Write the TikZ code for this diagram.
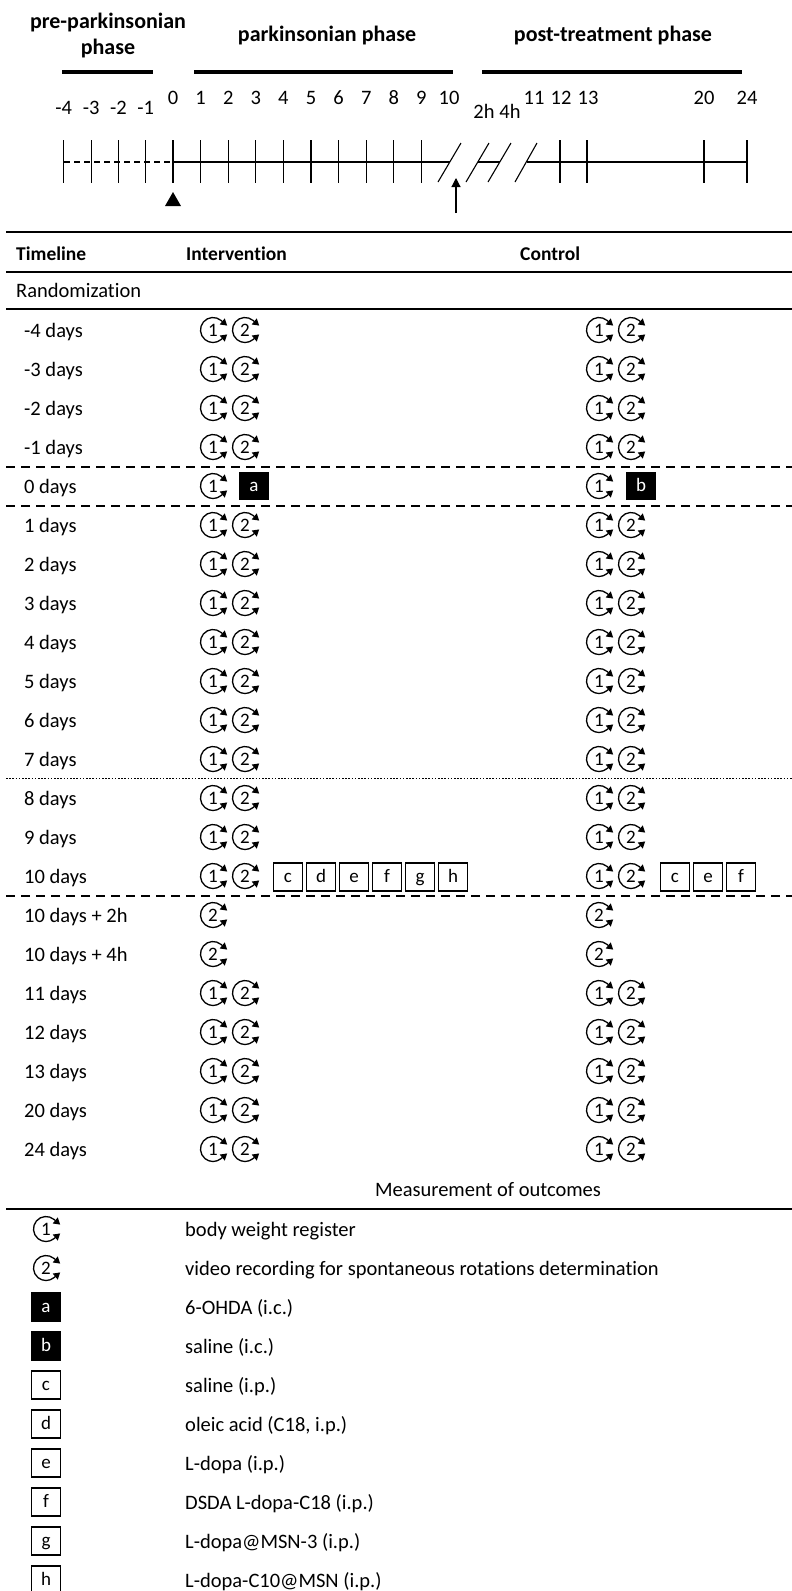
\documentclass[tikz,border=0pt]{standalone}
\usepackage{fontspec}
\setmainfont{Carlito}[Ligatures={NoCommon,NoContextual}]
\usetikzlibrary{arrows.meta}
\newcommand\txtsz{\fontsize{20.5}{24}\selectfont}
\newcommand\hdsz{\fontsize{22}{26}\selectfont\bfseries}
\newcommand\thsz{\fontsize{19.5}{23}\selectfont\bfseries}
\newcommand\icsz{\fontsize{19}{22}\selectfont}
\tikzset{
  cycnum/.style={circle,inner sep=0pt,minimum size=24pt,font=\icsz},
  cycarr/.style={line width=1.3pt,{Triangle[length=6.5pt,width=7.5pt]}-{Triangle[length=6.5pt,width=7.5pt]}},
  trtbox/.style={draw,line width=1.8pt,minimum width=29pt,minimum height=28pt,inner sep=0pt,
    text height=13pt,text depth=3pt,font=\icsz},
  blkbox/.style={fill=black,text=white,minimum width=30pt,minimum height=28pt,inner sep=0pt,
    text height=13pt,text depth=3pt,font=\icsz},
  rowtxt/.style={anchor=base west,inner sep=0pt,font=\txtsz},
  rulethick/.style={line width=2pt},
  ruledash/.style={line width=2pt,dash pattern=on 9pt off 6pt},
  ruledot/.style={line width=1.6pt,dash pattern=on 1.6pt off 1.6pt},
  phasebar/.style={line width=4.5pt},
  daytick/.style={line width=1.1pt}
}
\newcommand\cyc[4]{%
  \node[cycnum] (#1) at (#2,#3) {#4};
  \draw[cycarr] ([shift={(14.2pt,4.4pt)}]#1.center) -- ([shift={(50:12.5pt)}]#1.center)
    arc[start angle=50,end angle=310,radius=12.5pt] -- ([shift={(14.2pt,-4.4pt)}]#1.center);}

\begin{document}
\begin{tikzpicture}[x=1pt,y=-1pt]
  \useasboundingbox (0,0) rectangle (792,1591);

  \node[font=\hdsz,align=center] (prehd) at (108,36) {pre-parkinsonian\\phase};
  \node[font=\hdsz] (parkhd) at (327,36) {parkinsonian phase};
  \node[font=\hdsz] (posthd) at (613,36) {post-treatment phase};
  \draw[phasebar] (62,72) -- (153,72);
  \draw[phasebar] (194,72) -- (453,72);
  \draw[phasebar] (482,72) -- (742,72);

  \foreach \n [count=\i from 1] in {-1,-2,-3,-4} {
    \node[font=\txtsz] (neg\i) at (173-27.3*\i,108) {\n};
    \draw[daytick] (173-27.3*\i,140) -- (173-27.3*\i,183);
  }
  \foreach \n in {0,...,9} {
    \node[font=\txtsz] (day\n) at (173+27.6*\n,98) {\n};
    \draw[daytick] (173+27.6*\n,140) -- (173+27.6*\n,183);
  }
  \node[font=\txtsz] (day10) at (449,98) {10};
  \node[font=\txtsz] (hr2) at (484,111) {2h};
  \node[font=\txtsz] (hr4) at (510,111) {4h};
  \node[font=\txtsz] (day11) at (534,98) {11};
  \node[font=\txtsz] (day12) at (561,98) {12};
  \node[font=\txtsz] (day13) at (588,98) {13};
  \node[font=\txtsz] (day20) at (704,98) {20};
  \node[font=\txtsz] (day24) at (747,98) {24};
  \foreach \x in {560,587,704,747}
    \draw[daytick] (\x,140) -- (\x,183);

  \draw[daytick,dash pattern=on 6pt off 4pt] (64,162) -- (173,162);
  \draw[daytick] (173,162) -- (450,162);
  \draw[daytick] (478,162) -- (500,162);
  \draw[daytick] (527,162) -- (747,162);
  \draw[daytick] (438,182) -- (461,143);
  \draw[daytick] (466,182) -- (489,143);
  \draw[daytick] (488,182) -- (511,143);
  \draw[daytick] (515,182) -- (537,143);
  \fill (173,192) -- (181,206) -- (165,206) -- cycle;
  \coordinate (injbot) at (456,213);
  \coordinate (injtop) at (456,178);
  \draw[daytick,-{Triangle[length=9pt,width=9pt]}] (injbot) -- (injtop);

  \draw[rulethick] (6,232) -- (792,232);
  \node[rowtxt,font=\thsz] (thtime) at (16,260) {Timeline};
  \node[rowtxt,font=\thsz] (thint) at (186,260) {Intervention};
  \node[rowtxt,font=\thsz] (thctl) at (520,260) {Control};
  \draw[rulethick] (6,272) -- (792,272);
  \node[rowtxt] (rand) at (16,297) {Randomization};
  \draw[rulethick] (6,309) -- (792,309);

  \foreach \lab [count=\k from 0] in {-4 days,-3 days,-2 days,-1 days,0 days,
      1 days,2 days,3 days,4 days,5 days,6 days,7 days,8 days,9 days,10 days,
      10 days + 2h,10 days + 4h,11 days,12 days,13 days,20 days,24 days}
    \node[rowtxt] (row\k) at (24,337+39*\k) {\lab};

  \foreach \k in {0,...,3,5,6,...,14,17,18,...,21} {
    \cyc{ione\k}{213}{330+39*\k}{1}
    \cyc{itwo\k}{245}{330+39*\k}{2}
    \cyc{cone\k}{599}{330+39*\k}{1}
    \cyc{ctwo\k}{631}{330+39*\k}{2}
  }
  \cyc{ione4}{213}{486}{1}
  \cyc{cone4}{599}{486}{1}
  \node[blkbox] (inja) at (254,486) {a};
  \node[blkbox] (injb) at (641,486) {b};
  \foreach \k in {15,16} {
    \cyc{itwo\k}{213}{330+39*\k}{2}
    \cyc{ctwo\k}{599}{330+39*\k}{2}
  }
  \foreach \b [count=\i from 0] in {c,d,e,f,g,h}
    \node[trtbox] (itrt\b) at (288+33*\i,877) {\b};
  \foreach \b [count=\i from 0] in {c,e,f}
    \node[trtbox] (ctrt\b) at (675+33*\i,877) {\b};

  \draw[ruledash] (6,466.5) -- (792,466.5);
  \draw[ruledash] (6,505.5) -- (792,505.5);
  \draw[ruledot] (6,778.5) -- (792,778.5);
  \draw[ruledash] (6,895.5) -- (792,895.5);

  \node[font=\txtsz] (outc) at (488,1190) {Measurement of outcomes};
  \draw[rulethick] (6,1209) -- (792,1209);

  \cyc{keyone}{46}{1229}{1}
  \cyc{keytwo}{46}{1268}{2}
  \node[rowtxt] (keyonetxt) at (185,1236) {body weight register};
  \node[rowtxt] (keytwotxt) at (185,1275) {video recording for spontaneous rotations determination};
  \foreach \b/\txt [count=\i from 2] in {a/{6-OHDA (i.c.)},b/{saline (i.c.)}} {
    \node[blkbox,minimum height=30pt] (key\b) at (46,1229+39*\i) {\b};
    \node[rowtxt] (key\b txt) at (185,1236+39*\i) {\txt};
  }
  \foreach \b/\txt [count=\i from 4] in {c/{saline (i.p.)},d/{oleic acid (C18, i.p.)},
      e/{L-dopa (i.p.)},f/{DSDA L-dopa-C18 (i.p.)},g/{L-dopa@MSN-3 (i.p.)},
      h/{L-dopa-C10@MSN (i.p.)}} {
    \node[trtbox] (key\b) at (46,1229+39*\i) {\b};
    \node[rowtxt] (key\b txt) at (185,1236+39*\i) {\txt};
  }
\end{tikzpicture}
\end{document}
